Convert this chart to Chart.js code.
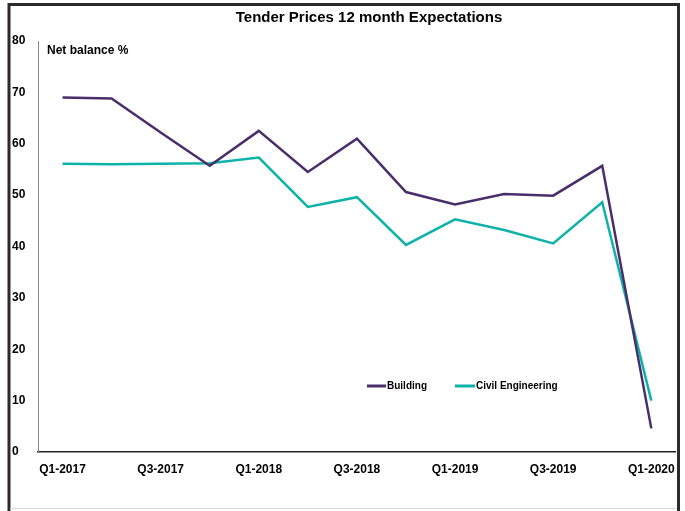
<!DOCTYPE html>
<html>
<head>
<meta charset="utf-8">
<script src="https://cdn.jsdelivr.net/npm/chart.js@4/dist/chart.umd.min.js"></script>
<style>
  html, body { margin: 0; padding: 0; background: #fff; }
  #wrap { width: 685px; height: 511px; position: relative; }
</style>
</head>
<body>
<div id="wrap"><canvas id="chart" width="685" height="511"></canvas></div>
<script>
const quarters = ['Q1-2017', 'Q2-2017', 'Q3-2017', 'Q4-2017', 'Q1-2018', 'Q2-2018', 'Q3-2018',
                  'Q4-2018', 'Q1-2019', 'Q2-2019', 'Q3-2019', 'Q4-2019', 'Q1-2020'];
const building = [69.0, 68.8, 62.2, 55.7, 62.5, 54.5, 61.0, 50.6, 48.2, 50.2, 49.9, 55.7, 4.6];
const civilEngineering = [56.1, 56.0, 56.1, 56.2, 57.3, 47.7, 49.6, 40.3, 45.3, 43.2, 40.6, 48.6, 10.0];
const yTicks = [0, 10, 20, 30, 40, 50, 60, 70, 80];

const FONT = '"Liberation Sans", Arial, sans-serif';

// frame, title, axis caption and in-plot legend
const decorations = {
    id: 'decorations',
    beforeDraw(chart) {
        const c = chart.ctx;
        c.save();
        c.fillStyle = '#fff';
        c.fillRect(0, 0, chart.width, chart.height);
        c.restore();
    },
    afterDraw(chart) {
        const c = chart.ctx;
        c.save();
        // outer frame
        c.strokeStyle = '#2e2a2b';
        c.lineWidth = 3;
        c.beginPath();
        c.moveTo(9, 511);
        c.lineTo(9, 4.5);
        c.lineTo(678.5, 4.5);
        c.lineTo(678.5, 511);
        c.stroke();
        c.strokeStyle = '#d8d8d8';
        c.lineWidth = 1;
        c.beginPath();
        c.moveTo(10, 508.5);
        c.lineTo(677, 508.5);
        c.stroke();

        // title
        c.fillStyle = '#000';
        c.textAlign = 'center';
        c.textBaseline = 'middle';
        c.font = 'bold 15px ' + FONT;
        c.fillText('Tender Prices 12 month Expectations', 369, 18);

        // caption
        c.textAlign = 'left';
        c.font = 'bold 12px ' + FONT;
        c.fillText('Net balance %', 47, 51);

        // legend
        const items = [{ x: 367, tx: 386 }, { x: 455, tx: 475 }];
        chart.data.datasets.forEach((ds, i) => {
            const it = items[i];
            c.strokeStyle = ds.borderColor;
            c.lineWidth = 3;
            c.beginPath();
            c.moveTo(it.x, 386);
            c.lineTo(it.tx, 386);
            c.stroke();
            c.fillStyle = '#000';
            c.font = 'bold 10px ' + FONT;
            c.fillText(ds.label, it.tx + 1, 386);
        });
        c.restore();
    }
};

const ctx = document.getElementById('chart').getContext('2d');
new Chart(ctx, {
    type: 'line',
    data: {
        labels: quarters,
        datasets: [
            {
                label: 'Building',
                data: building,
                borderColor: '#4a2d6a',
                borderWidth: 2.5,
                pointRadius: 0,
                tension: 0
            },
            {
                label: 'Civil Engineering',
                data: civilEngineering,
                borderColor: '#0fb2a8',
                borderWidth: 2.5,
                pointRadius: 0,
                tension: 0
            }
        ]
    },
    options: {
        responsive: false,
        animation: false,
        layout: { padding: { top: 41, left: 12, right: 9, bottom: 0 } },
        plugins: {
            legend: { display: false },
            title: { display: false },
            tooltip: { enabled: false }
        },
        scales: {
            x: {
                offset: true,
                grid: { display: false, drawTicks: false },
                border: { display: true, color: '#222', width: 1.5 },
                afterFit: s => { s.height = 59; },
                ticks: {
                    autoSkip: false,
                    maxRotation: 0,
                    padding: 10,
                    color: '#000',
                    font: { family: FONT, size: 12, weight: 'bold' },
                    callback: (v, i) => (i % 2 === 0 ? quarters[i] : '')
                }
            },
            y: {
                min: 0,
                max: 80,
                afterBuildTicks: s => { s.ticks = yTicks.map(v => ({ value: v })); },
                afterFit: s => { s.width = 26; },
                grid: { display: false, drawTicks: false },
                border: { display: true, color: '#8a8a8a', width: 1 },
                ticks: {
                    crossAlign: 'far',
                    padding: 0,
                    color: '#000',
                    font: { family: FONT, size: 12, weight: 'bold' }
                }
            }
        }
    },
    plugins: [decorations]
});
</script>
</body>
</html>
